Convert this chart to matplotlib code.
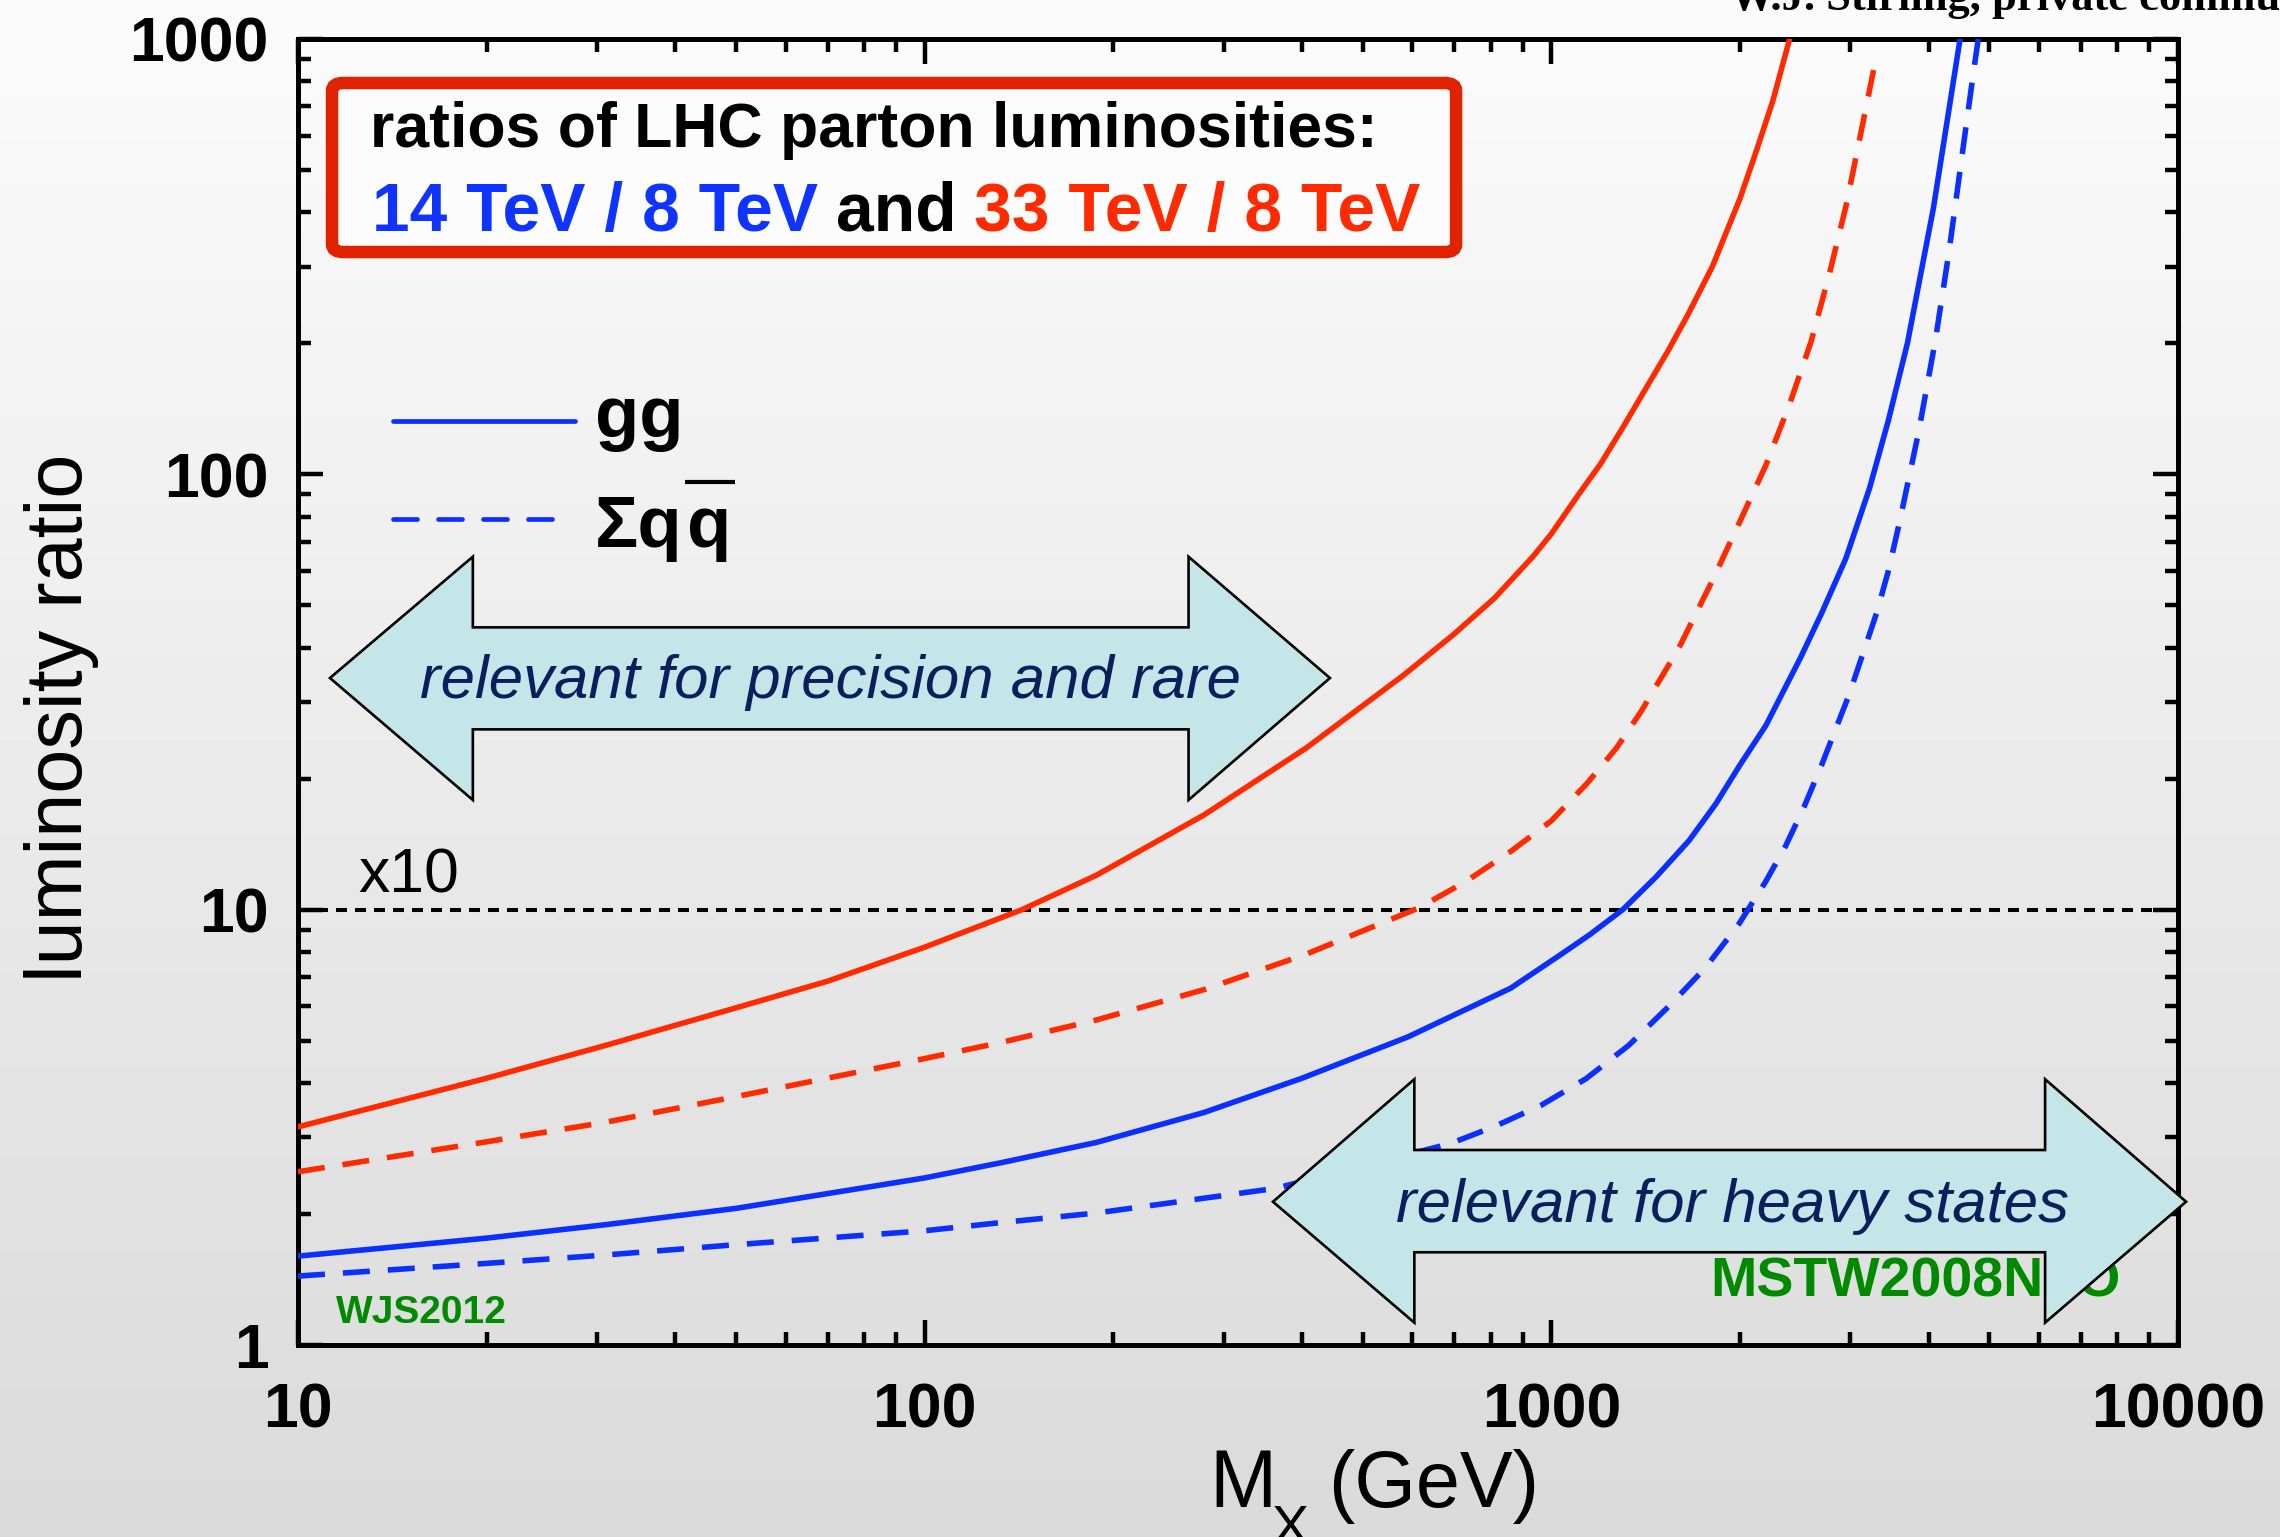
import numpy as np
import matplotlib
matplotlib.use("Agg")
import matplotlib.pyplot as plt
from matplotlib.patches import Polygon, FancyBboxPatch
from matplotlib.lines import Line2D
from matplotlib.ticker import LogLocator, NullFormatter

plt.rcParams["font.family"] = ["Liberation Sans", "DejaVu Sans"]

# ---- parton luminosity ratios vs. mass M_X (GeV) ----
# 33 TeV / 8 TeV, gg
mass_gg_33 = [10, 20, 31, 50, 70, 100, 143, 188, 279, 406, 580, 700, 812, 937,
              1000, 1106, 1200, 1300, 1535, 1650, 1807, 2000, 2130, 2256, 2400]
ratio_gg_33 = [3.17, 4.1, 4.88, 5.95, 6.85, 8.2, 10.0, 12.0, 16.5, 23.5, 34.5,
               43.0, 52.0, 65.0, 73.0, 90.0, 106.0, 128.0, 192.0, 232.0, 300.0,
               430.0, 560.0, 720.0, 1000.0]

# 33 TeV / 8 TeV, sum q qbar
mass_qq_33 = [10, 20, 31, 50, 100, 132, 188, 279, 406, 615, 730, 861, 1000,
              1140, 1270, 1390, 1599, 1807, 2000, 2200, 2400, 2595, 2780, 2958, 3300]
ratio_qq_33 = [2.50, 2.93, 3.25, 3.72, 4.55, 4.95, 5.58, 6.55, 7.9, 10.1, 11.6,
               13.6, 16.0, 19.5, 23.5, 28.5, 40.0, 57.0, 78.0, 105.0, 145.0,
               201.0, 290.0, 418.0, 910.0]

# 14 TeV / 8 TeV, gg
mass_gg_14 = [10, 20, 31, 50, 100, 132, 188, 279, 400, 590, 861, 1037, 1150,
              1300, 1470, 1658, 1830, 2000, 2200, 2500, 2700, 2950, 3220, 3450,
              3700, 4070, 4490]
ratio_gg_14 = [1.60, 1.76, 1.89, 2.06, 2.42, 2.62, 2.92, 3.42, 4.1, 5.1, 6.6,
               7.9, 8.75, 10.0, 11.9, 14.4, 17.5, 21.5, 26.5, 38.0, 48.0, 64.0,
               93.0, 133.0, 200.0, 408.0, 1000.0]

# 14 TeV / 8 TeV, sum q qbar
mass_qq_14 = [10, 20, 31, 50, 100, 132, 188, 363, 689, 813, 962, 1136, 1329,
              1544, 1762, 1993, 2198, 2365, 2530, 2700, 2982, 3304, 3450, 3597,
              3855, 4100, 4313, 4514, 4722, 4800]
ratio_qq_14 = [1.44, 1.54, 1.61, 1.70, 1.83, 1.91, 2.01, 2.29, 2.90, 3.18, 3.55,
               4.09, 4.88, 6.02, 7.36, 9.28, 11.6, 14.0, 17.2, 21.5, 31.0, 48.0,
               60.0, 78.0, 125.0, 203.0, 326.0, 529.0, 849.0, 1000.0]

x_ticks = [10, 100, 1000, 10000]
x_tick_labels = ["10", "100", "1000", "10000"]
y_ticks = [1, 10, 100, 1000]
y_tick_labels = ["1", "10", "100", "1000"]
reference_ratio = 10

BLUE = "#0b2fff"
RED = "#ff2a00"
BOX_RED = "#e12200"
GREEN = "#008a00"
NAVY = "#0c1f5c"
ARROW_FILL = "#c4e6e8"

W, H = 2280, 1537
fig = plt.figure(figsize=(W / 100, H / 100), dpi=100)

# soft vertical grey gradient behind everything
bg = fig.add_axes([0, 0, 1, 1], zorder=-10)
grad = np.linspace(251, 218, 512) / 255.0
bg.imshow(grad[:, None], cmap="gray", vmin=0, vmax=1, aspect="auto",
          extent=[0, 1, 0, 1], interpolation="bilinear")
bg.axis("off")

ax = fig.add_axes([298 / W, 1 - 1345 / H, 1880 / W, 1306 / H])
ax.patch.set_alpha(0)
ax.set_xscale("log")
ax.set_yscale("log")
ax.set_xlim(10, 10000)
ax.set_ylim(1, 1000)

for s in ax.spines.values():
    s.set_linewidth(3.6)

ax.set_xticks(x_ticks)
ax.set_xticklabels(x_tick_labels)
ax.set_yticks(y_ticks)
ax.set_yticklabels(y_tick_labels)
ax.xaxis.set_minor_locator(LogLocator(base=10, subs=np.arange(2, 10)))
ax.yaxis.set_minor_locator(LogLocator(base=10, subs=np.arange(2, 10)))
ax.xaxis.set_minor_formatter(NullFormatter())
ax.yaxis.set_minor_formatter(NullFormatter())
ax.tick_params(which="both", direction="in", top=True, right=True, width=3.2)
ax.tick_params(which="major", length=18)
ax.tick_params(which="minor", length=9.4)
ax.tick_params(axis="x", which="major", pad=26, labelsize=45)
ax.tick_params(axis="y", which="major", pad=21, labelsize=45)
for lab in ax.get_xticklabels() + ax.get_yticklabels():
    lab.set_fontweight("bold")

# curves
LW = 4.0
px_per_lw = LW * 100 / 72
DASH = (0, (27 / px_per_lw, 18 / px_per_lw))
ax.plot(mass_gg_33, ratio_gg_33, color=RED, lw=LW, solid_joinstyle="round", zorder=3)
ax.plot(mass_qq_33, ratio_qq_33, color=RED, lw=LW, ls=DASH, dash_capstyle="butt", zorder=3)
ax.plot(mass_gg_14, ratio_gg_14, color=BLUE, lw=LW, solid_joinstyle="round", zorder=3)
ax.plot(mass_qq_14, ratio_qq_14, color=BLUE, lw=LW, ls=DASH, dash_capstyle="butt", zorder=3)

# x10 reference line
dot_lw = 2.9
dot_px = dot_lw * 100 / 72
ax.axhline(reference_ratio, color="black", lw=dot_lw,
           ls=(0, (11 / dot_px, 8 / dot_px)), dash_capstyle="butt", zorder=2)
ax.text(0.0319, 0.3461, "x10", transform=ax.transAxes, fontsize=45,
        va="baseline", ha="left", color="black")

# title box
box = FancyBboxPatch((0.0181, 0.8369), 0.616 - 0.0181, 0.9663 - 0.8369,
                     boxstyle="round,pad=0,rounding_size=0.006",
                     transform=ax.transAxes, ec=BOX_RED, fc="#fcfcfc",
                     lw=9, zorder=5, clip_on=False)
ax.add_patch(box)
ax.text(0.0383, 0.9175, "ratios of LHC parton luminosities:", transform=ax.transAxes,
        color="black", va="baseline", ha="left", zorder=6,
        fontweight="bold", fontsize=45)
line2_size = 48.8
space = 0.26 * line2_size
t1 = ax.text(0.0394, 0.853, "14 TeV / 8 TeV", transform=ax.transAxes,
             color="#1034ff", va="baseline", ha="left", zorder=6,
             fontweight="bold", fontsize=line2_size)
t2 = ax.annotate("and", xy=(1, 0), xycoords=t1, xytext=(space, 0),
                 textcoords="offset points", color="black", va="bottom",
                 ha="left", zorder=6, fontweight="bold", fontsize=line2_size)
t3 = ax.annotate("33 TeV / 8 TeV", xy=(1, 0), xycoords=t2, xytext=(space, 0),
                 textcoords="offset points", color=RED, va="bottom",
                 ha="left", zorder=6, fontweight="bold", fontsize=line2_size)

# legend drawn by hand
ax.add_line(Line2D([0.0505, 0.1473], [0.7075, 0.7075], transform=ax.transAxes,
                   color=BLUE, lw=3.4, solid_capstyle="round"))
leg_px = 3.4 * 100 / 72
ax.add_line(Line2D([0.0505, 0.1378], [0.6325, 0.6325], transform=ax.transAxes,
                   color=BLUE, lw=3.4, ls=(0, (24 / leg_px, 21 / leg_px)),
                   dash_capstyle="round"))
leg_font = dict(fontweight="bold", fontsize=52)
ax.text(0.158, 0.6953, "gg", transform=ax.transAxes, va="baseline",
        ha="left", color="black", **leg_font)
lq = ax.text(0.158, 0.611, "\u03a3q", transform=ax.transAxes, va="baseline",
             ha="left", color="black", **leg_font)
qbar = ax.annotate("q", xy=(1, 0), xycoords=lq, xytext=(3, 0),
                   textcoords="offset points", va="bottom", ha="left",
                   color="black", **leg_font)


def block_arrow(xl, xhl, xhr, xr, yc, yht, yhb, yst, ysb):
    pts = [(xl, yc), (xhl, yht), (xhl, yst), (xhr, yst), (xhr, yht),
           (xr, yc), (xhr, yhb), (xhr, ysb), (xhl, ysb), (xhl, yhb)]
    ax.add_patch(Polygon(pts, closed=True, transform=ax.transAxes,
                         fc=ARROW_FILL, ec="black", lw=1.9, zorder=7,
                         clip_on=False, joinstyle="miter"))


block_arrow(0.0170, 0.0930, 0.4737, 0.5489, 0.5107, 0.6036, 0.4173, 0.5495, 0.4714)
block_arrow(0.5186, 0.5938, 0.9293, 1.0043, 0.1097, 0.2035, 0.0171, 0.1493, 0.0710)
arrow_font = dict(fontsize=44.5, style="italic", color=NAVY, zorder=8)
ax.text(0.2832, 0.4954, "relevant for precision and rare", transform=ax.transAxes,
        ha="center", va="baseline", **arrow_font)
ax.text(0.7628, 0.0944, "relevant for heavy states", transform=ax.transAxes,
        ha="center", va="baseline", **arrow_font)

# PDF set / author tags
ax.text(0.0202, 0.01685, "WJS2012", transform=ax.transAxes, fontsize=28,
        fontweight="bold", color=GREEN, ha="left", va="baseline", zorder=4)
ax.text(0.751, 0.0368, "MSTW2008NLO", transform=ax.transAxes, fontsize=40,
        fontweight="bold", color=GREEN, ha="left", va="baseline", zorder=4)

# axis titles
fig.text(82 / W, 1 - 718 / H, "luminosity ratio", rotation=90,
         rotation_mode="anchor", ha="center", va="baseline", fontsize=57)
fig.text(1209 / W, 1 - 1507 / H, "M", ha="left", va="baseline", fontsize=58)
fig.text(1272 / W, 1 - 1544 / H, "X", ha="left", va="baseline", fontsize=40)
fig.text(1328 / W, 1 - 1507 / H, "(GeV)", ha="left", va="baseline", fontsize=57)

fig.text(1730 / W, 1 - 10 / H, "W.J. Stirling, private communication",
         family="Liberation Serif", fontweight="bold", fontsize=32,
         ha="left", va="baseline")

# bar over the last q of the legend label
fig.canvas.draw()
renderer = fig.canvas.get_renderer()
bb = qbar.get_window_extent(renderer)
inv = fig.transFigure.inverted()
(x0, y0), (x1, y1) = inv.transform([(bb.x0 - 2, bb.y1 + 12), (bb.x1 + 4, bb.y1 + 12)])
fig.add_artist(Line2D([x0, x1], [y0, y1], transform=fig.transFigure,
                      color="black", lw=3.0, solid_capstyle="butt"))

fig.savefig("out.png", dpi=100)
